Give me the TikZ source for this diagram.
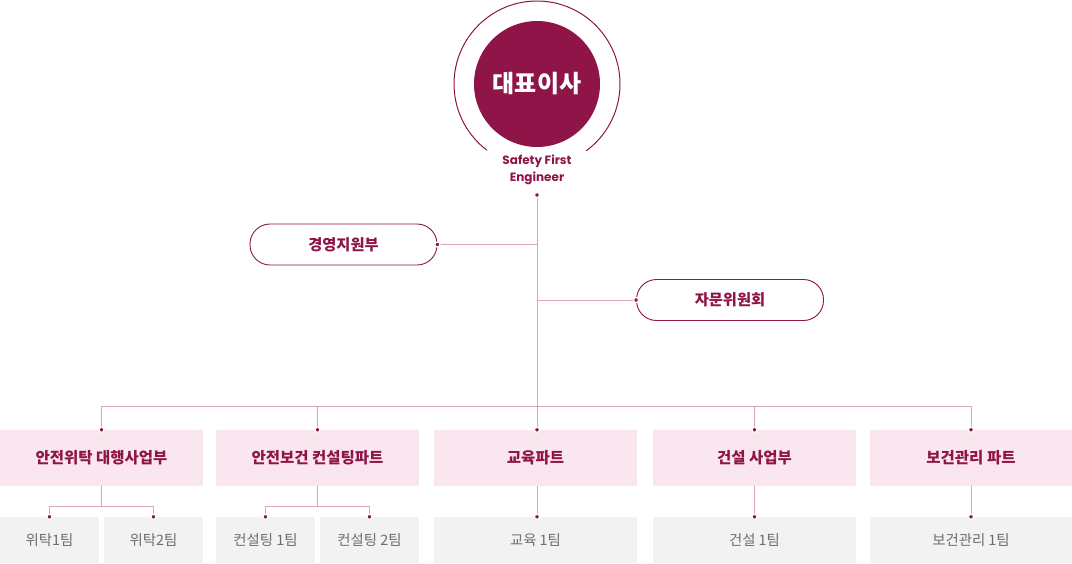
\documentclass[tikz,border=0pt]{standalone}
\usepackage{fontspec}
\setmainfont{Noto Sans CJK KR}
\newfontfamily\poppins{Poppins}
\definecolor{crim}{HTML}{8F1447}
\definecolor{lnk}{HTML}{D9A6BC}
\definecolor{pinkbg}{HTML}{FAE6EF}
\definecolor{graybg}{HTML}{F2F2F2}
\definecolor{graytx}{HTML}{6E6E6E}
\begin{document}
\begin{tikzpicture}[x=1pt,y=-1pt,
  ceo/.style={circle,fill=crim,minimum size=126pt,inner sep=0pt,text=white,font=\fontsize{24}{28}\selectfont\bfseries},
  tag/.style={align=center,text=crim,font=\poppins\fontsize{12}{17}\selectfont\bfseries,inner sep=0pt},
  pill/.style={draw=crim,line width=0.9pt,fill=white,rounded corners=20pt,minimum width=187pt,minimum height=41pt,inner sep=0pt,text=crim,font=\fontsize{15.3}{17}\selectfont\bfseries},
  topbox/.style={fill=pinkbg,minimum width=203pt,minimum height=56pt,inner sep=0pt,text=crim,font=\fontsize{15.5}{17}\selectfont\bfseries},
  subbox/.style={fill=graybg,minimum height=46pt,inner sep=0pt,text=graytx,font=\fontsize{14.4}{16}\selectfont},
  conn/.style={draw=lnk,line width=0.9pt},
  dot/.style={circle,fill=crim,draw=white,line width=1.2pt,minimum size=5pt,inner sep=0pt}
]
\useasboundingbox (0,0) rectangle (1072,563);
% CEO
\node[ceo] (ceo) at (537,84) {대표이사};
\draw[crim,line width=1pt] (ceo.center) ++(53.6:83) arc[start angle=53.6,end angle=-233,radius=83];
\node[tag] (tag) at (537,170) {Safety First\\Engineer};
\coordinate (top) at (537,195);
% side pills
\node[pill] (mgmt) at (343.5,244.5) {경영지원부};
\node[pill] (advi) at (730,300) {자문위원회};
% top boxes
\node[topbox] (b1) at (101.5,458) {안전위탁 대행사업부};
\node[topbox] (b2) at (317.5,458) {안전보건 컨설팅파트};
\node[topbox] (b3) at (535.5,458) {교육파트};
\node[topbox] (b4) at (754.5,458) {건설 사업부};
\node[topbox,minimum width=202pt] (b5) at (971,458) {보건관리 파트};
% sub boxes
\node[subbox,minimum width=99pt] (c1) at (49.5,540) {위탁1팀};
\node[subbox,minimum width=99pt] (c2) at (153.5,540) {위탁2팀};
\node[subbox,minimum width=99pt] (c3) at (265.5,540) {컨설팅 1팀};
\node[subbox,minimum width=99pt] (c4) at (369.5,540) {컨설팅 2팀};
\node[subbox,minimum width=203pt] (c5) at (535.5,540) {교육 1팀};
\node[subbox,minimum width=203pt] (c6) at (754.5,540) {건설 1팀};
\node[subbox,minimum width=202pt] (c7) at (971,540) {보건관리 1팀};
% bus
\coordinate (busM) at (537,406);
\coordinate (busL) at (b1.north |- busM);
\coordinate (busR) at (b5.north |- busM);
\draw[conn] (top) -- (busM);
\draw[conn] (busL) -- (busR);
\draw[conn] (mgmt.east) -- (mgmt.east -| top);
\draw[conn] (advi.west) -- (advi.west -| top);
\foreach \b in {b1,b2,b4,b5} \draw[conn] (\b.north |- busM) -- (\b.north);
\draw[conn] (busM) -- (busM |- b3.north);
% sub connectors
\draw[conn] (b1.south) -- ++(0,20) -| (c1.north);
\draw[conn] (b1.south) -- ++(0,20) -| (c2.north);
\draw[conn] (b2.south) -- ++(0,20) -| (c3.north);
\draw[conn] (b2.south) -- ++(0,20) -| (c4.north);
\draw[conn] (busM |- b3.south) -- (busM |- c5.north);
\draw[conn] (b4.south) -- (c6.north);
\draw[conn] (b5.south) -- (c7.north);
% dots
\node[dot] at (top) {};
\node[dot] at (mgmt.east) {};
\node[dot] at (advi.west) {};
\foreach \b in {b1,b2,b4,b5,c1,c2,c3,c4,c6,c7} \node[dot] at (\b.north) {};
\node[dot] at (busM |- b3.north) {};
\node[dot] at (busM |- c5.north) {};
\end{tikzpicture}
\end{document}
